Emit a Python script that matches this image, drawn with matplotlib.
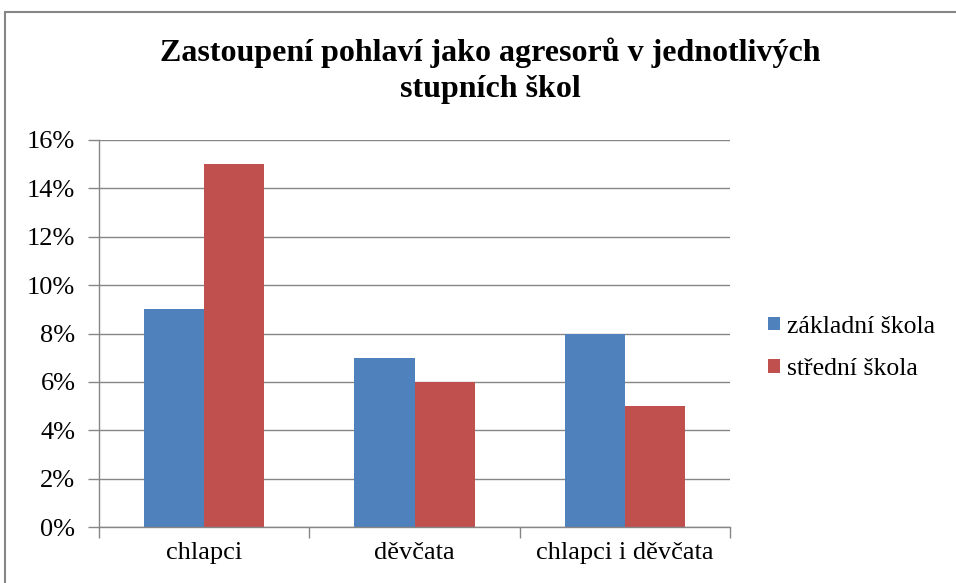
import matplotlib.pyplot as plt
import matplotlib.patches as mpatches
import numpy as np
from matplotlib.ticker import FuncFormatter

CATEGORIES = ["chlapci", "děvčata", "chlapci i děvčata"]
SERIES     = ["základní škola", "střední škola"]
ZAKLADNI   = [9, 7, 8]
STREDNI    = [15, 6, 5]
Y_TICKS    = [0, 2, 4, 6, 8, 10, 12, 14, 16]
TITLE      = "Zastoupení pohlaví jako agresorů v jednotlivých\nstupních škol"

BLUE  = "#4F81BD"
RED   = "#C0504D"
GRID  = "#868686"

plt.rcParams["font.family"] = ["Liberation Serif", "DejaVu Serif"]


def main():
    fig = plt.figure(figsize=(9.56, 5.83), dpi=100)
    ax = fig.add_axes([99 / 956, 1 - 527 / 583, 631 / 956, 387 / 583])

    x = np.arange(len(CATEGORIES))
    w = 1 / 3.5
    ax.bar(x - w / 2, ZAKLADNI, width=w, color=BLUE, label=SERIES[0], zorder=2)
    ax.bar(x + w / 2, STREDNI, width=w, color=RED, label=SERIES[1], zorder=2)

    ax.set_xlim(-0.5, len(CATEGORIES) - 0.5)
    ax.set_ylim(0, 16)
    ax.set_yticks(Y_TICKS)
    ax.yaxis.set_major_formatter(FuncFormatter(lambda v, _: f"{int(v)}%"))
    ax.grid(axis="y", color=GRID, linewidth=1.0, zorder=0)

    # category boundaries as ticks, labels centred in between
    ax.set_xticks(np.arange(-0.5, len(CATEGORIES), 1.0))
    ax.set_xticklabels([])
    ax.set_xticks(x, minor=True)
    ax.set_xticklabels(CATEGORIES, minor=True, fontsize=19)
    ax.tick_params(axis="x", which="minor", length=0, pad=11)
    ax.tick_params(axis="x", which="major", length=8, color=GRID, width=1)
    ax.tick_params(axis="y", length=8, color=GRID, width=1, labelsize=19, pad=9)

    for side in ["top", "right"]:
        ax.spines[side].set_visible(False)
    for side in ["left", "bottom"]:
        ax.spines[side].set_color(GRID)
        ax.spines[side].set_linewidth(1.0)

    fig.text(0.513, 1 - 71 / 583, TITLE, ha="center", va="center",
             fontsize=23, fontweight="bold", linespacing=1.3)

    ax.legend(loc="center left", bbox_to_anchor=(768 / 956, 1 - 348 / 583),
              bbox_transform=fig.transFigure, frameon=False, fontsize=18.5,
              borderpad=0, borderaxespad=0,
              handlelength=0.45, handleheight=0.45, handletextpad=0.3,
              labelspacing=0.8)

    border = mpatches.Rectangle((5 / 956, -0.1), 1.2, 1 - 12 / 583 + 0.1,
                                transform=fig.transFigure, fill=False,
                                edgecolor=GRID, linewidth=1.5, clip_on=False)
    fig.patches.append(border)

    fig.savefig("out.png", dpi=100)


if __name__ == "__main__":
    main()
